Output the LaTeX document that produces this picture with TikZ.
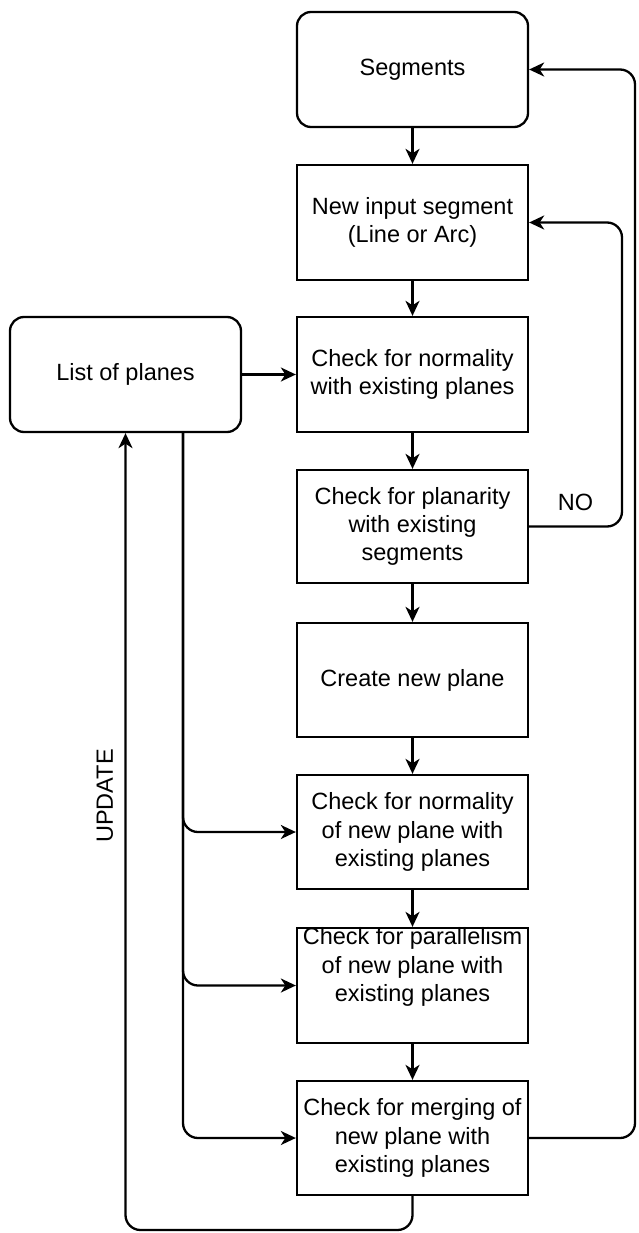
\documentclass[tikz,border=0pt]{standalone}
\usepackage{fontspec}
\setmainfont{Liberation Sans}
\usetikzlibrary{arrows.meta}
\begin{document}
\begin{tikzpicture}[x=1pt, y=-1pt,
  txt/.style={font=\fontsize{23.5}{28.3}\selectfont, align=center},
  box/.style={txt, draw, line width=2.3pt, minimum width=231pt, minimum height=115pt, inner sep=0pt},
  roundbox/.style={box, rounded corners=14pt},
  flow/.style={-{Stealth[length=15pt, width=14pt, inset=4.5pt]}, line width=2.3pt},
  loop/.style={flow, rounded corners=15pt}]
  % canvas
  \path[fill=white, use as bounding box] (0,0) rectangle (638,1233);

  % main column
  \node[roundbox] (seg) at (412.5,69.5) {Segments};
  \node[box] (newin) at (412.5,222.5) {New input segment\\(Line or Arc)};
  \node[box] (chk) at (412.5,374.5) {Check for normality\\with existing planes};
  \node[box, minimum height=113pt] (plan) at (412.5,526.5) {Check for planarity\\with existing\\segments};
  \node[box, minimum height=114pt] (create) at (412.5,680) {Create new plane};
  \node[box, minimum height=114pt] (norm) at (412.5,832) {Check for normality\\of new plane with\\existing planes};
  \node[box] (par) at (412.5,985.5) {};
  \node[txt] (parT) at (412.5,967) {Check for parallelism\\of new plane with\\existing planes};
  \node[box, minimum height=114pt] (merge) at (412.5,1138) {Check for merging of\\new plane with\\existing planes};

  % plane store
  \node[roundbox] (list) at (125.5,374.5) {List of planes};

  % labels
  \node[txt] (no) at (575.5,502) {NO};
  \node[txt, rotate=90] (upd) at (105,796) {UPDATE};

  % routing guides
  \coordinate (noX) at (622,0);
  \coordinate (retX) at (635,0);
  \coordinate (busX) at (183,0);
  \coordinate (updY) at (0,1230);

  % straight flow
  \draw[flow] (seg) -- (newin);
  \draw[flow] (newin) -- (chk);
  \draw[flow] (chk) -- (plan);
  \draw[flow] (plan) -- (create);
  \draw[flow] (create) -- (norm);
  \draw[flow] (norm) -- (par);
  \draw[flow] (par) -- (merge);
  \draw[flow] (list) -- (chk);

  % feedback loops
  \draw[loop] (plan.east) -| (noX |- newin.east) -- (newin.east);
  \draw[loop] (merge.east) -| (retX |- seg.east) -- (seg.east);
  \draw[loop] (merge.south) |- (list.south |- updY) -- (list.south);

  % plane list feeding the checks
  \draw[loop] (list.south -| busX) |- (norm.west);
  \draw[loop] (list.south -| busX) |- (par.west);
  \draw[loop] (list.south -| busX) |- (merge.west);
\end{tikzpicture}
\end{document}
